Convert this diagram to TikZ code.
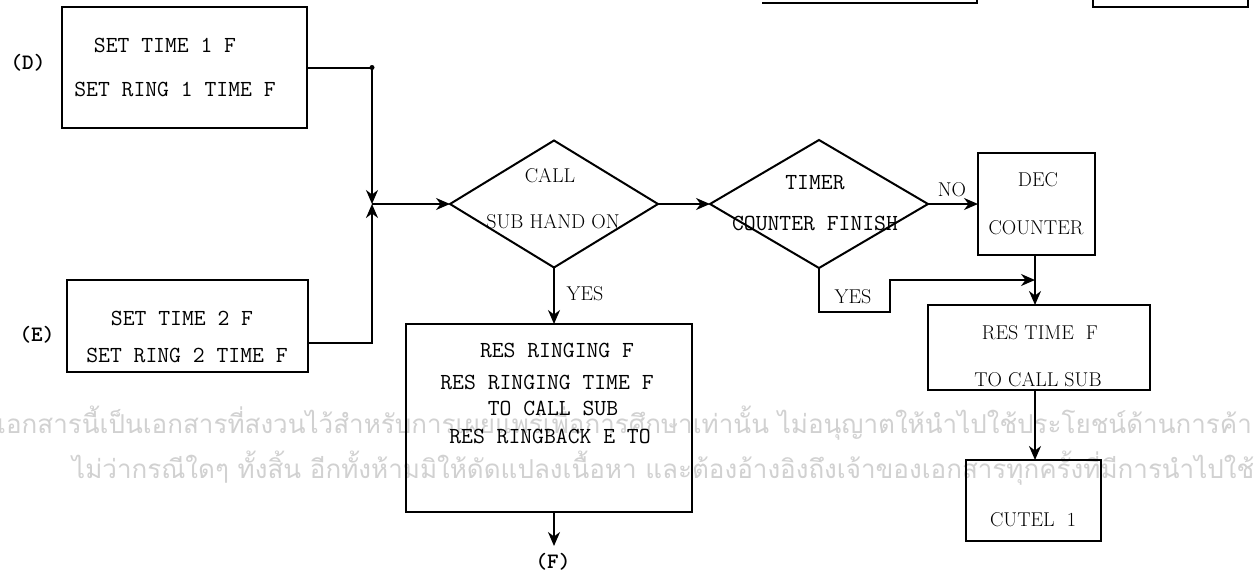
\documentclass[tikz,border=0pt]{standalone}
\usepackage{fontspec}
\newfontfamily\thaifont[Script=Thai]{Loma}
\usetikzlibrary{shapes.geometric,arrows.meta}
\begin{document}
\begin{tikzpicture}[x=1pt,y=-1pt,
  box/.style={draw, line width=2pt, inner sep=0pt, outer sep=0pt},
  dia/.style={draw, diamond, line width=2pt, inner sep=0pt, outer sep=0pt},
  tw/.style={font=\fontsize{23}{25}\selectfont\ttfamily, inner sep=0pt},
  rm/.style={font=\fontsize{20}{22}\selectfont\rmfamily, inner sep=0pt},
  lab/.style={font=\fontsize{22}{24}\selectfont\ttfamily\bfseries, inner sep=0pt},
  conn/.style={line width=2pt},
  arr/.style={conn, -{Stealth[length=14pt,width=12pt]}},
  wm/.style={font=\thaifont\fontsize{26}{28}\selectfont, text=black!18, inner sep=0pt, anchor=base west}]
\useasboundingbox (0,0) rectangle (1259,581);
\clip (0,0) rectangle (1259,581);
\fill[white] (0,0) rectangle (1259,581);

% watermark
\node[wm] (wm1) at (-3,433) {เอกสารนี้เป็นเอกสารที่สงวนไว้สำหรับการเผยแพร่เพื่อการศึกษาเท่านั้น ไม่อนุญาตให้นำไปใช้ประโยชน์ด้านการค้า};
\node[wm] (wm2) at (72,478) {ไม่ว่ากรณีใดๆ ทั้งสิ้น อีกทั้งห้ามมิให้ดัดแปลงเนื้อหา และต้องอ้างอิงถึงเจ้าของเอกสารทุกครั้งที่มีการนำไปใช้};

% partial boxes at top edge
\draw[conn] (762,3) -- (977,3) -- (977,-2);
\draw[conn] (1093,-2) -- (1093,7) -- (1248,7) -- (1248,-2);

% boxes
\node[box, minimum width=245pt, minimum height=121pt] (D) at (184.5,67.5) {};
\node[box, minimum width=241pt, minimum height=92pt] (E) at (187.5,326) {};
\node[dia, minimum width=208pt, minimum height=127pt] (c1) at (554,204) {};
\node[dia, minimum width=218pt, minimum height=128pt] (c2) at (819,204) {};
\node[box, minimum width=117pt, minimum height=102pt] (dec) at (1036.5,204) {};
\node[box, minimum width=222pt, minimum height=85pt] (rt) at (1039,347.5) {};
\node[box, minimum width=135pt, minimum height=81pt] (cut) at (1033,500.5) {};
\node[box, minimum width=286pt, minimum height=188pt] (rr) at (549,418) {};
\coordinate (J) at (372,204);
\coordinate (M) at (1035,280);

% texts
\node[lab] (Dl) at (28,63) {(D)};
\node[lab] (El) at (37,335) {(E)};
\node[lab] (Fl) at (553,562) {(F)};
\node[tw] (d1) at (165,45) {SET TIME 1 F};
\node[tw] (d2) at (175,89) {SET RING 1 TIME F};
\node[tw] (e1) at (182,318) {SET TIME 2 F};
\node[tw] (e2) at (187,355) {SET RING 2 TIME F};
\node[rm] (c1a) at (550,176) {CALL};
\node[rm] (c1b) at (553,222) {SUB HAND ON};
\node[tw] (c2a) at (815,183) {TIMER};
\node[tw] (c2b) at (815,223) {COUNTER FINISH};
\node[rm] (no) at (952,190) {NO};
\node[rm] (deca) at (1038,180) {DEC};
\node[rm] (decb) at (1036,228) {COUNTER};
\node[rm] (y1) at (585,294) {YES};
\node[rm] (y2) at (853,297) {YES};
\node[tw] (r1) at (557,350) {RES RINGING F};
\node[tw] (r2) at (547,382) {RES RINGING TIME F};
\node[tw] (r3) at (553,408) {TO CALL SUB};
\node[tw] (r4) at (550,436) {RES RINGBACK E TO};
\node[rm] (rta) at (1040,333) {RES TIME \ F};
\node[rm] (rtb) at (1038,380) {TO CALL SUB};
\node[rm] (cu) at (1033,520) {CUTEL \ 1};

% connectors
\draw[arr] (D.east) -| (J);
\fill (372,67.5) circle (2.5pt);
\draw[arr] ([yshift=-17pt]E.east) -| (J);
\draw[arr] (J) -- (c1.west);
\draw[arr] (c1.east) -- (c2.west);
\draw[arr] (c2.east) -- (dec.west);
\draw[arr] (c1.south) -- (c1.south |- rr.north);
\draw[arr] (M |- dec.south) -- (M |- rt.north);
\draw[arr] (c2.south) -- ++(0,44) -| (890,280) -- (M);
\draw[arr] (M |- rt.south) -- (M |- cut.north);
\draw[arr] (c1.south |- rr.south) -- (c1.south |- 0,546);
\end{tikzpicture}
\end{document}
